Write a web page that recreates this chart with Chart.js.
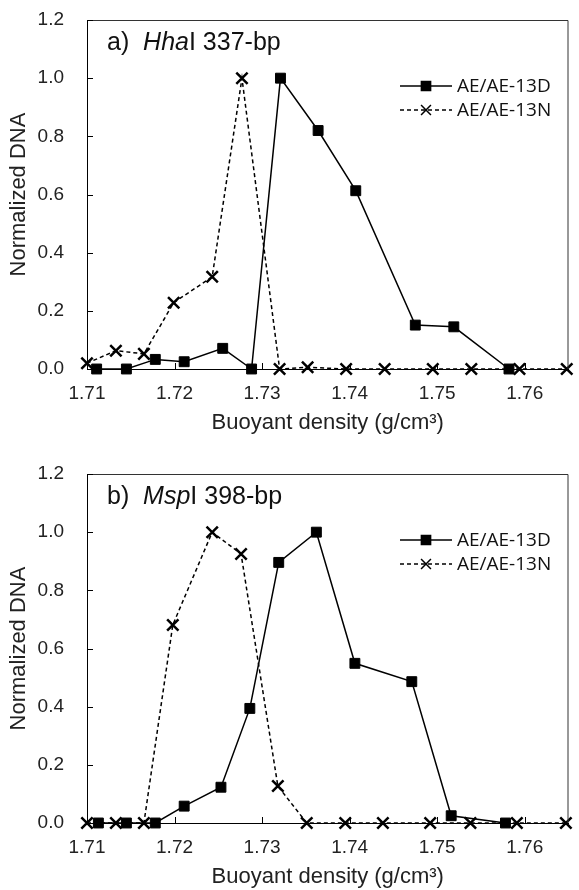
<!DOCTYPE html>
<html>
<head>
<meta charset="utf-8">
<script src="https://cdn.jsdelivr.net/npm/chart.js@4.4.1/dist/chart.umd.min.js"></script>
<style>
  html, body { margin: 0; padding: 0; background: #fff; }
  .panel { position: absolute; left: 0; width: 579px; height: 445px; }
</style>
</head>
<body>
<div class="panel" style="top:0"><canvas id="chartA"></canvas></div>
<div class="panel" style="top:445px"><canvas id="chartB"></canvas></div>
<script>
// axes
const densityTicks = [1.71, 1.72, 1.73, 1.74, 1.75, 1.76];
const dnaTicks = [0, 0.2, 0.4, 0.6, 0.8, 1.0, 1.2];
const seriesNames = ['AE/AE-13D', 'AE/AE-13N'];

// a) HhaI 337-bp
const hhaDensityD = [1.7111, 1.7145, 1.7178, 1.7211, 1.7255, 1.7288, 1.7321, 1.7364, 1.7407, 1.7475, 1.7519, 1.7582];
const hhaDnaD     = [0, 0, 0.033, 0.025, 0.071, 0, 1.0, 0.82, 0.613, 0.151, 0.145, 0];
const hhaDensityN = [1.7100, 1.7133, 1.7165, 1.7199, 1.7243, 1.7277, 1.7320, 1.7352, 1.7396, 1.7440, 1.7495, 1.7539, 1.7594, 1.7648];
const hhaDnaN     = [0.02, 0.063, 0.052, 0.228, 0.317, 1.0, 0, 0.006, 0, 0, 0, 0, 0, 0];

// b) MspI 398-bp
const mspDensityD = [1.7113, 1.7145, 1.7178, 1.7211, 1.7253, 1.7286, 1.7319, 1.7362, 1.7406, 1.7471, 1.7516, 1.7578];
const mspDnaD     = [0, 0, 0, 0.058, 0.123, 0.394, 0.896, 1.0, 0.549, 0.486, 0.025, 0];
const mspDensityN = [1.7100, 1.7133, 1.7165, 1.7198, 1.7243, 1.7276, 1.7318, 1.7351, 1.7395, 1.7438, 1.7492, 1.7538, 1.7591, 1.7647];
const mspDnaN     = [0, 0, 0, 0.681, 1.0, 0.925, 0.127, 0, 0, 0, 0, 0, 0, 0];

const PANEL_H = 445;
const tickFont = { family: '"Liberation Sans", Arial, sans-serif', size: 19 };
const titleFont = { family: '"Liberation Sans", Arial, sans-serif', size: 22 };

const toPoints = (xs, ys) => xs.map((x, i) => ({ x: x, y: ys[i] }));

// frame, inward ticks, panel label and legend
const panelDecor = {
  id: 'panelDecor',
  afterDraw(chart, args, opts) {
    const { ctx, chartArea: a, scales } = chart;
    ctx.save();
    ctx.strokeStyle = '#333';
    ctx.lineWidth = 1;
    ctx.beginPath();
    ctx.moveTo(a.left, a.top + 0.5);
    ctx.lineTo(a.right - 0.5, a.top + 0.5);
    ctx.lineTo(a.right - 0.5, a.bottom);
    ctx.stroke();

    ctx.strokeStyle = '#000';
    ctx.beginPath();
    dnaTicks.forEach(v => {
      const py = Math.round(scales.y.getPixelForValue(v)) + 0.5;
      ctx.moveTo(a.left, py);
      ctx.lineTo(a.left + 6, py);
    });
    densityTicks.forEach(v => {
      const px = Math.round(scales.x.getPixelForValue(v)) + 0.5;
      ctx.moveTo(px, a.bottom);
      ctx.lineTo(px, a.bottom - 6);
    });
    ctx.stroke();

    // panel label, with the enzyme name in italics
    let tx = a.left + 20;
    const ty = a.top + 30;
    ctx.fillStyle = '#111';
    ctx.textBaseline = 'alphabetic';
    ctx.textAlign = 'left';
    opts.label.forEach(part => {
      ctx.font = (part[1] ? 'italic ' : '') + '25px "Liberation Sans", Arial, sans-serif';
      ctx.fillText(part[0], tx, ty);
      tx += ctx.measureText(part[0]).width;
    });

    // legend
    chart.data.datasets.forEach((ds, i) => {
      const ly = a.top + 66 + i * 24;
      ctx.strokeStyle = '#000';
      ctx.fillStyle = '#000';
      ctx.lineWidth = 1.5;
      ctx.setLineDash(ds.borderDash || []);
      ctx.beginPath();
      ctx.moveTo(400, ly);
      ctx.lineTo(452, ly);
      ctx.stroke();
      ctx.setLineDash([]);
      Chart.helpers.drawPoint(ctx, {
        pointStyle: ds.pointStyle,
        radius: ds.pointStyle === 'rect' ? 6.5 : 7,
        borderWidth: ds.pointBorderWidth,
        rotation: 0
      }, 426, ly);
      ctx.fillStyle = '#111';
      ctx.font = '19px "Open Sans", sans-serif';
      ctx.textBaseline = 'middle';
      ctx.fillText(ds.label, 457, ly + 1);
    });
    ctx.restore();
  }
};

function makeChart(id, cfg) {
  const plotBottom = cfg.plotBottom;
  return new Chart(document.getElementById(id), {
    type: 'scatter',
    data: {
      datasets: [
        {
          label: seriesNames[0],
          data: toPoints(cfg.densityD, cfg.dnaD),
          showLine: true,
          borderColor: '#000',
          borderWidth: 1.5,
          pointStyle: 'rect',
          pointRadius: 7,
          pointBackgroundColor: '#000',
          pointBorderColor: '#000',
          pointBorderWidth: 1,
          clip: false
        },
        {
          label: seriesNames[1],
          data: toPoints(cfg.densityN, cfg.dnaN),
          showLine: true,
          borderColor: '#000',
          borderWidth: 1.5,
          borderDash: [4, 3],
          pointStyle: 'crossRot',
          pointRadius: 8,
          pointBorderColor: '#000',
          pointBorderWidth: 2.5,
          clip: false
        }
      ]
    },
    options: {
      responsive: true,
      maintainAspectRatio: false,
      animation: false,
      devicePixelRatio: 1,
      layout: { padding: { top: cfg.plotTop, right: 3, left: 0, bottom: 0 } },
      plugins: {
        legend: { display: false },
        tooltip: { enabled: false },
        panelDecor: { label: cfg.label }
      },
      scales: {
        x: {
          type: 'linear',
          min: 1.71,
          max: 1.765,
          afterBuildTicks: s => { s.ticks = densityTicks.map(v => ({ value: v })); },
          afterFit: s => {
            s.height = PANEL_H - plotBottom;
            s.paddingLeft = 0;
            s.paddingRight = 0;
          },
          grid: { display: false, drawTicks: false },
          border: { display: true, color: '#000', width: 1 },
          ticks: {
            font: tickFont, color: '#222', padding: 13,
            maxRotation: 0, autoSkip: false,
            callback: v => v.toFixed(2)
          },
          title: {
            display: true,
            text: 'Buoyant density (g/cm\u00B3)',
            font: titleFont, color: '#222',
            padding: { top: 0, bottom: cfg.xTitlePad }
          }
        },
        y: {
          min: 0,
          max: 1.2,
          afterBuildTicks: s => { s.ticks = dnaTicks.map(v => ({ value: v })); },
          afterFit: s => {
            s.width = 87;
            s.paddingTop = 0;
            s.paddingBottom = 0;
          },
          grid: { display: false, drawTicks: false },
          border: { display: true, color: '#000', width: 1 },
          ticks: {
            font: tickFont, color: '#222', padding: 23,
            callback: v => v.toFixed(1)
          },
          title: {
            display: true,
            text: 'Normalized DNA',
            font: titleFont, color: '#222',
            padding: { top: 6, bottom: 0 }
          }
        }
      }
    },
    plugins: [panelDecor]
  });
}

makeChart('chartA', {
  plotTop: 20, plotBottom: 369, xTitlePad: 9,
  label: [['a)  ', false], ['Hha', true], ['I 337-bp', false]],
  densityD: hhaDensityD, dnaD: hhaDnaD, densityN: hhaDensityN, dnaN: hhaDnaN
});

makeChart('chartB', {
  plotTop: 29, plotBottom: 378, xTitlePad: 0,
  label: [['b)  ', false], ['Msp', true], ['I 398-bp', false]],
  densityD: mspDensityD, dnaD: mspDnaD, densityN: mspDensityN, dnaN: mspDnaN
});
</script>
</body>
</html>
